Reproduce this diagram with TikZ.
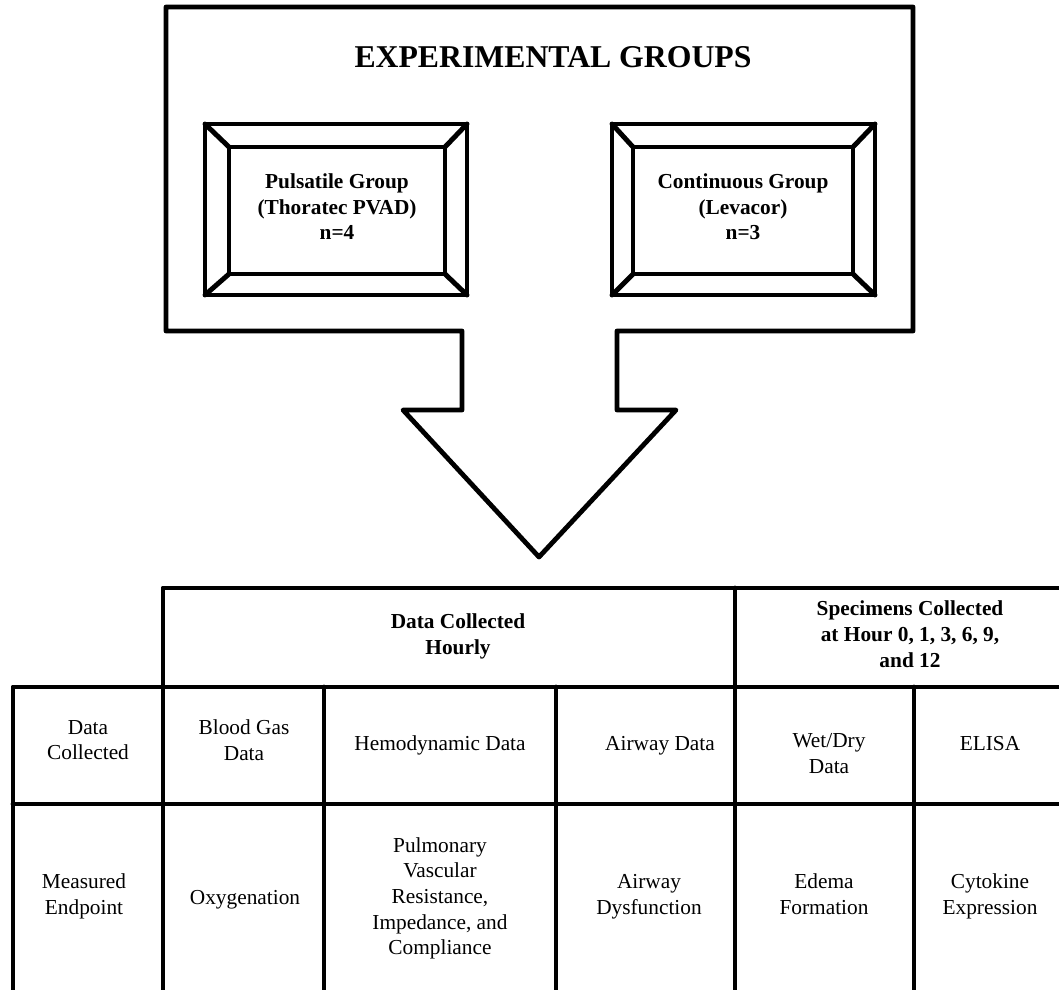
\documentclass[tikz,border=0pt]{standalone}
\usepackage{fontspec}
\setmainfont{Liberation Serif}
\begin{document}
\begin{tikzpicture}[x=0.75pt,y=-0.75pt, line join=round, line cap=round,
  frame/.style={line width=3.6pt},
  tbl/.style={line width=3.7pt},
  bevel/.style={draw, line width=3.7pt, rectangle, inner sep=0pt, outer sep=0pt},
  txt/.style={inner sep=0pt, align=center, font=\fontsize{16}{19.2}\selectfont,
    execute at begin node={\strut}, execute at end node={\strut}},
  btxt/.style={txt, font=\bfseries\fontsize{16}{19.2}\selectfont}]
\useasboundingbox (0,0) rectangle (1059,989);
\clip (0,0) rectangle (1059,989);

% outer frame with arrow
\draw[frame] (166,7) -- (913,7) -- (913,331) -- (617,331) -- (617,410) -- (676,410)
  -- (539,557) -- (403,410) -- (462,410) -- (462,331) -- (166,331) -- cycle;

\node[font=\bfseries\fontsize{23.8}{29}\selectfont, anchor=base, inner sep=0pt] (title) at (553,67) {EXPERIMENTAL GROUPS};

% bevel boxes
\node[bevel, minimum width=196.5pt, minimum height=128.25pt] (pulsO) at (336,209.5) {};
\node[bevel, minimum width=162pt, minimum height=95.25pt, btxt] (pulsI) at (337,210.5) {Pulsatile Group\\(Thoratec PVAD)\\n=4};
\draw[line width=3.7pt] (pulsO.north west) -- (pulsI.north west);
\draw[line width=3.7pt] (pulsO.north east) -- (pulsI.north east);
\draw[line width=3.7pt] (pulsO.south west) -- (pulsI.south west);
\draw[line width=3.7pt] (pulsO.south east) -- (pulsI.south east);

\node[bevel, minimum width=197.25pt, minimum height=128.25pt] (contO) at (743.5,209.5) {};
\node[bevel, minimum width=165pt, minimum height=95.25pt, btxt] (contI) at (743,210.5) {Continuous Group\\(Levacor)\\n=3};
\draw[line width=3.7pt] (contO.north west) -- (contI.north west);
\draw[line width=3.7pt] (contO.north east) -- (contI.north east);
\draw[line width=3.7pt] (contO.south west) -- (contI.south west);
\draw[line width=3.7pt] (contO.south east) -- (contI.south east);

% table lines
\draw[tbl] (1075,588) -- (163,588) -- (163,1000);
\draw[tbl] (13,1000) -- (13,687) -- (1075,687);
\draw[tbl] (13,804) -- (1075,804);
\draw[tbl] (735,588) -- (735,1000);
\draw[tbl] (324,687) -- (324,1000);
\draw[tbl] (556,687) -- (556,1000);
\draw[tbl] (914,687) -- (914,1000);

% table texts
\node[btxt] (hdrA) at (458,638) {Data Collected\\Hourly};
\node[btxt] (hdrB) at (910,638) {Specimens Collected\\at Hour 0, 1, 3, 6, 9,\\and 12};

\node[txt] (dc) at (88,744) {Data\\Collected};
\node[txt] (bg) at (244,744) {Blood Gas\\Data};
\node[txt] (hd) at (440,745) {Hemodynamic Data};
\node[txt] (ad) at (660,745) {Airway Data};
\node[txt] (wd) at (829,757) {Wet/Dry\\Data};
\node[txt] (el) at (990,745) {ELISA};

\node[txt] (me) at (84,898) {Measured\\Endpoint};
\node[txt] (ox) at (245,899) {Oxygenation};
\node[txt] (pv) at (440,900) {Pulmonary\\Vascular\\Resistance,\\Impedance, and\\Compliance};
\node[txt] (aw) at (649,898) {Airway\\Dysfunction};
\node[txt] (ed) at (824,898) {Edema\\Formation};
\node[txt] (cy) at (990,898) {Cytokine\\Expression};
\end{tikzpicture}
\end{document}
